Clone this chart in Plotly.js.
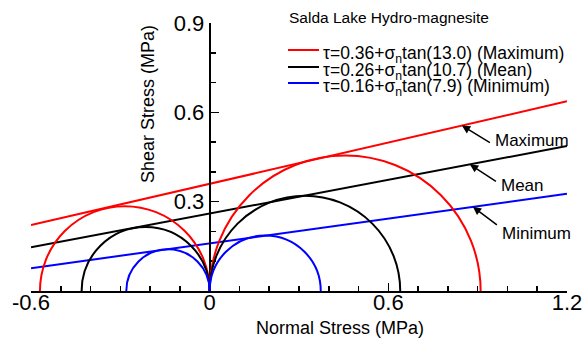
<!DOCTYPE html>
<html>
<head>
<meta charset="utf-8">
<script src="https://cdn.plot.ly/plotly-3.0.1.min.js"></script>
<style>html,body{margin:0;padding:0;background:#fff;}#chart{width:584px;height:341px;}</style>
</head>
<body>
<div id="chart"></div>
<script>
// Failure envelopes (Mohr-Coulomb): cohesion (MPa) and friction angle (deg)
const envelopeNames = ["Maximum", "Mean", "Minimum"];
const cohesion = [0.36, 0.26, 0.16];
const frictionAngle = [13.0, 10.7, 7.9];
const envelopeColors = ["#ff0000", "#000000", "#0000ff"];
const envelopeSigma = [-0.6, 1.2];

// Mohr circles: tensile (left) and compressive (right), sigma3..sigma1 (MPa)
const tensileCircleS3 = [-0.57, -0.43, -0.28];
const tensileCircleS1 = [0, 0, 0];
const compCircleS3 = [0, 0, 0];
const compCircleS1 = [0.91, 0.64, 0.373];

// Axis ticks
const xTickVals = [-0.6, 0, 0.6, 1.2];
const xTickText = ["-0.6", "0", "0.6", "1.2"];
const yTickVals = [0.3, 0.6, 0.9];
const yTickText = ["0.3", "0.6", "0.9"];

// arrow tip positions (sigma) on each envelope
const arrowTipSigma = [0.847, 0.874, 0.884];

const L = 31, R = 567, T = 23, B = 291;
const px = x => (x - L) / (R - L);
const py = y => (B - y) / (B - T);
const FONT = "Liberation Sans, Arial, sans-serif";

const traces = envelopeNames.map((n, i) => {
  const t = Math.tan(frictionAngle[i] * Math.PI / 180);
  return {
    x: envelopeSigma,
    y: envelopeSigma.map(s => cohesion[i] + s * t),
    mode: "lines", name: n, showlegend: false, hoverinfo: "skip",
    line: {color: envelopeColors[i], width: 2}
  };
});

const shapes = [];
envelopeNames.forEach((n, i) => {
  [[tensileCircleS3[i], tensileCircleS1[i]], [compCircleS3[i], compCircleS1[i]]].forEach(([a, b]) => {
    const r = (b - a) / 2;
    shapes.push({type: "circle", xref: "x", yref: "y", x0: a, x1: b, y0: -r, y1: r,
      line: {color: envelopeColors[i], width: 2}, layer: "above"});
  });
});

const legendRows = [50, 67, 83];
const annotations = [];
envelopeNames.forEach((n, i) => {
  shapes.push({type: "line", xref: "paper", yref: "paper", x0: px(288), x1: px(319),
    y0: py(legendRows[i]), y1: py(legendRows[i]), line: {color: envelopeColors[i], width: 2}});
  annotations.push({xref: "paper", yref: "paper", x: px(321), y: py(legendRows[i]), yshift: -4,
    xanchor: "left", yanchor: "middle", showarrow: false,
    text: "\u03c4=" + cohesion[i].toFixed(2) + "+\u03c3<sub>n</sub>tan(" + frictionAngle[i].toFixed(1) + ") (" + n + ")",
    font: {family: FONT, size: 17.5, color: "#000"}});
});
annotations.push({xref: "paper", yref: "paper", x: px(287), y: py(18), xanchor: "left", yanchor: "middle",
  showarrow: false, text: "Salda Lake Hydro-magnesite", font: {family: FONT, size: 15.5, color: "#000"}});
annotations.push({xref: "paper", yref: "paper", x: px(148), y: py(104), xanchor: "center", yanchor: "middle",
  textangle: -90, showarrow: false, text: "Shear Stress (MPa)", font: {family: FONT, size: 18, color: "#000"}});
annotations.push({xref: "paper", yref: "paper", x: px(340), y: py(328), xanchor: "center", yanchor: "middle",
  showarrow: false, text: "Normal Stress (MPa)", font: {family: FONT, size: 18, color: "#000"}});

// arrow tail offsets (px) and label box tweaks
const arrowOff = [[28, 17], [26, 17], [24, 18]];
const labelBoxH = [24, 28, 36];
const labelVAlign = ["top", "bottom", "bottom"];
envelopeNames.forEach((n, i) => {
  const t = Math.tan(frictionAngle[i] * Math.PI / 180);
  const s = arrowTipSigma[i];
  annotations.push({xref: "x", yref: "y", x: s, y: cohesion[i] + s * t, ax: arrowOff[i][0], ay: arrowOff[i][1],
    text: n, xanchor: "left", yanchor: "middle", height: labelBoxH[i], valign: labelVAlign[i], borderpad: 4,
    font: {family: FONT, size: 17, color: "#000"},
    showarrow: true, arrowhead: 2, arrowsize: 1.1, arrowwidth: 1.5, arrowcolor: "#000", standoff: 0});
});

const layout = {
  width: 584, height: 341,
  margin: {l: L, r: 584 - R, t: T, b: 341 - B, pad: 0},
  paper_bgcolor: "#fff", plot_bgcolor: "#fff",
  showlegend: false,
  font: {family: FONT, color: "#000"},
  xaxis: {range: [-0.6, 1.2], showgrid: false, zeroline: false, showline: true, linecolor: "#000", linewidth: 2,
    ticks: "inside", ticklen: 8, tickwidth: 1.5, tickcolor: "#000", ticklabelstandoff: -9,
    tickvals: xTickVals, ticktext: xTickText, tickfont: {family: FONT, size: 22, color: "#000"},
    minor: {ticks: "inside", ticklen: 5, tickwidth: 1.5, tickcolor: "#000", dtick: 0.1, tick0: 0},
    fixedrange: true},
  yaxis: {range: [0, 0.9], anchor: "free", position: 1 / 3, side: "left",
    showgrid: false, zeroline: false, showline: true, linecolor: "#000", linewidth: 2,
    ticks: "inside", ticklen: 8, tickwidth: 1.5, tickcolor: "#000",
    tickvals: yTickVals, ticktext: yTickText, tickfont: {family: FONT, size: 22, color: "#000"},
    minor: {ticks: "inside", ticklen: 5, tickwidth: 1.5, tickcolor: "#000", dtick: 0.1, tick0: 0},
    fixedrange: true},
  shapes: shapes,
  annotations: annotations
};

Plotly.newPlot("chart", traces, layout, {staticPlot: true, displayModeBar: false});
</script>
</body>
</html>
